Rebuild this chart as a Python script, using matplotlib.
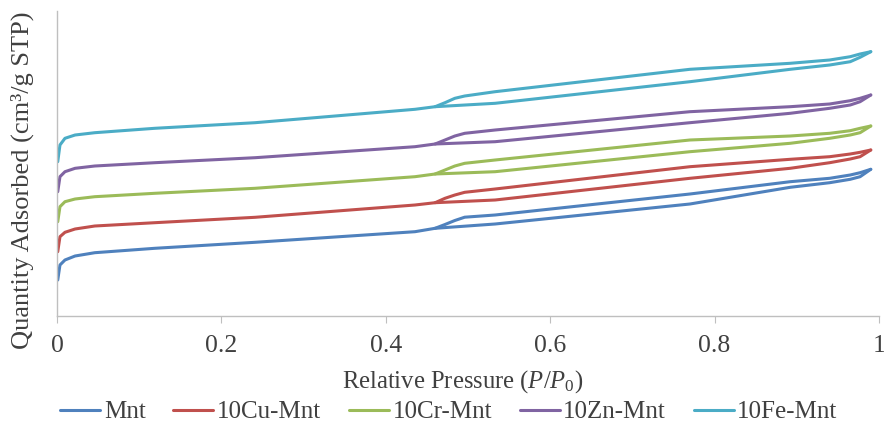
import matplotlib
matplotlib.use("Agg")
import matplotlib.pyplot as plt

plt.rcParams['font.family'] = ['Liberation Serif', 'DejaVu Serif']
plt.rcParams['mathtext.fontset'] = 'custom'
plt.rcParams['mathtext.rm'] = 'Liberation Serif'
plt.rcParams['mathtext.it'] = 'Liberation Serif:italic'

# Relative pressure grids (adsorption and desorption branches)
p_ads = [0.0009, 0.0036, 0.0097, 0.022, 0.046, 0.119, 0.241, 0.4355, 0.46, 0.533,
         0.77, 0.892, 0.94, 0.965, 0.977, 0.99]
p_des = [0.99, 0.977, 0.965, 0.94, 0.892, 0.77, 0.533, 0.496, 0.484, 0.472, 0.46]

series_names = ["Mnt", "10Cu-Mnt", "10Cr-Mnt", "10Zn-Mnt", "10Fe-Mnt"]

mnt_ads = [36, 51, 56, 60, 63.3, 67.7, 73.7, 84.3, 87.7, 92, 112, 128.7, 133.3, 136.7, 139.3, 146.7]
cu_ads = [64.3, 79.3, 83.7, 87, 90, 93.3, 98.7, 111, 113.3, 116, 137.7, 147.7, 153.3, 157, 159.3, 166]
cr_ads = [94.3, 109.3, 114.3, 117, 119.3, 122.7, 127.7, 139.3, 142, 144.3, 164.3, 172.7, 177.7, 181, 183.3, 190]
zn_ads = [124.3, 139.3, 144.3, 147.7, 150, 153.3, 158.3, 169.3, 172, 174.3, 193.3, 202.7, 207.7, 211, 214.3, 221]
fe_ads = [154.3, 171, 177.7, 181, 183.3, 187.7, 193.3, 206.7, 209.3, 212.7, 234.3, 246.7, 251, 254.3, 258.7, 264.3]

mnt_des = [146.7, 143.3, 141, 137.7, 134.3, 122, 101, 98.8, 95.5, 91.5, 87.7]
cu_des = [166, 163.7, 162, 159.3, 156.7, 149.3, 127, 123.7, 121, 117.7, 113.3]
cr_des = [190, 187.7, 185.3, 182.7, 180, 176, 156, 152.7, 150, 146, 142]
zn_des = [221, 217.7, 215.3, 212, 209.3, 204.3, 186, 182.7, 180, 176, 172]
fe_des = [264.3, 262, 259.3, 256, 252.7, 246.7, 224.3, 220, 217.7, 213.3, 209.3]

colors = ["#4F81BD", "#C0504D", "#9BBB59", "#8064A2", "#4BACC6"]
x_ticks = [0, 0.2, 0.4, 0.6, 0.8, 1]
x_tick_labels = ["0", "0.2", "0.4", "0.6", "0.8", "1"]

ads_all = [mnt_ads, cu_ads, cr_ads, zn_ads, fe_ads]
des_all = [mnt_des, cu_des, cr_des, zn_des, fe_des]

W, H = 884, 429
fig = plt.figure(figsize=(W / 100, H / 100), dpi=100)
ax = fig.add_axes([57 / W, (H - 316) / H, (879 - 57) / W, (316 - 11) / H])

text_color = "#404040"
axis_color = "#BFBFBF"

for name, c, a, d in zip(series_names, colors, ads_all, des_all):
    ax.plot(p_ads, a, color=c, lw=2.2, label=name, solid_capstyle='round', solid_joinstyle='round')
    ax.plot(p_des, d, color=c, lw=2.2, solid_capstyle='round', solid_joinstyle='round')

ax.set_xlim(0, 1)
ax.set_ylim(0, 305)
ax.set_xticks(x_ticks)
ax.set_xticklabels(x_tick_labels)
ax.set_yticks([])
for s in ["top", "right"]:
    ax.spines[s].set_visible(False)
for s in ["left", "bottom"]:
    ax.spines[s].set_color(axis_color)
    ax.spines[s].set_linewidth(1.0)
ax.tick_params(axis='x', direction='out', length=5, color=axis_color,
               labelsize=18.5, labelcolor=text_color, pad=9)

fig.text(463 / W, 1 - 382 / H, r"Relative Pressure ($P$/$P_0$)", ha='center', va='center',
         fontsize=17.7, color=text_color)
fig.text(22 / W, 1 - 180 / H, "Quantity Adsorbed (cm³/g STP)", rotation=90,
         ha='center', va='center', fontsize=19, color=text_color)

leg = fig.legend(loc='center', bbox_to_anchor=(449 / W, 1 - 412 / H), ncol=5,
                 frameon=False, fontsize=18, handlelength=1.6, handletextpad=0.15,
                 columnspacing=1.1, labelcolor=text_color, borderpad=0, borderaxespad=0)

fig.savefig("out.png", dpi=100)
